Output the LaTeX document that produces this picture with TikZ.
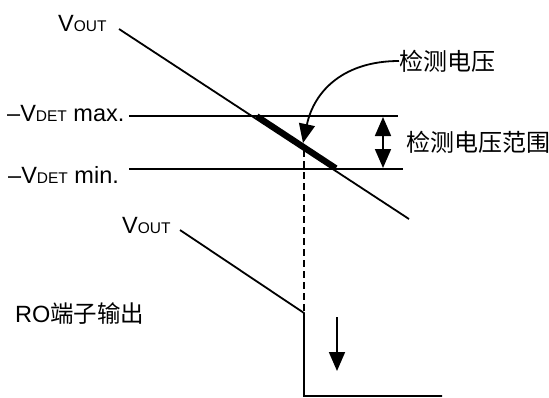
\documentclass[tikz,border=0pt]{standalone}
\usepackage{fontspec}
\setmainfont{Liberation Sans}
\newfontfamily\cjk{Noto Sans CJK SC}
\usetikzlibrary{arrows.meta}
\begin{document}
\begin{tikzpicture}[x=1pt,y=-1pt,
  thinline/.style={line width=1.8pt},
  thickseg/.style={line width=5.5pt},
  dashline/.style={line width=1.8pt,dash pattern=on 7pt off 4pt},
  tipshape/.tip={Triangle[length=19pt,width=16pt]},
  bigarrow/.style={line width=1.8pt,-tipshape},
  dblarrow/.style={line width=1.8pt,tipshape-tipshape},
  lbl/.style={inner sep=0pt,font=\fontsize{23.5}{27}\selectfont},
  cjklbl/.style={inner sep=0pt,font=\fontsize{24}{28}\selectfont\cjk}]
\useasboundingbox (0,0) rectangle (549,397);
\newcommand{\sm}[1]{{\fontsize{15.5}{15}\selectfont #1}}
% labels
\node[lbl,anchor=base west] (vout1) at (58,31) {V\sm{OUT}};
\node[lbl,anchor=base west] (vmax) at (7,121) {–V\sm{DET} max.};
\node[lbl,anchor=base west] (vmin) at (8,183) {–V\sm{DET} min.};
\node[lbl,anchor=base west] (vout2) at (122,233) {V\sm{OUT}};
\node[lbl,anchor=base west] (ro) at (15,322) {RO{\cjk 端子输出}};
\node[cjklbl,anchor=west] (det) at (399,61) {检测电压};
\node[cjklbl,anchor=west] (range) at (406,142) {检测电压范围};
% coordinates
\coordinate (a1) at (119,29);
\coordinate (a2) at (409,219);
\coordinate (mx1) at (129,116);
\coordinate (mx2) at (398,116);
\coordinate (mn1) at (129,169);
\coordinate (mn2) at (403,169);
\coordinate (t1) at (257,116);
\coordinate (t2) at (336,168);
\coordinate (tip) at (303,143);
\coordinate (dstart) at (304,150);
\coordinate (dend) at (304,312);
\coordinate (b1) at (180,230);
\coordinate (b2) at (304,313);
\coordinate (b3) at (304,396);
\coordinate (b4) at (442,396);
\coordinate (da1) at (383,117);
\coordinate (da2) at (383,168);
\coordinate (ar1) at (337,317);
\coordinate (ar2) at (337,371);
% drawing
\draw[thinline] (a1) -- (a2);
\draw[thinline] (mx1) -- (mx2);
\draw[thinline] (mn1) -- (mn2);
\draw[thickseg] (t1) -- (t2);
\draw[dashline] (dstart) -- (dend);
\draw[thinline,line join=miter] (b1) -- (b2) -- (b3) -- (b4);
\draw[dblarrow] (da1) -- (da2);
\draw[bigarrow] (ar1) -- (ar2);
\draw[bigarrow] (det.west) to[out=180,in=78,looseness=1.1] (tip);
\end{tikzpicture}
\end{document}
